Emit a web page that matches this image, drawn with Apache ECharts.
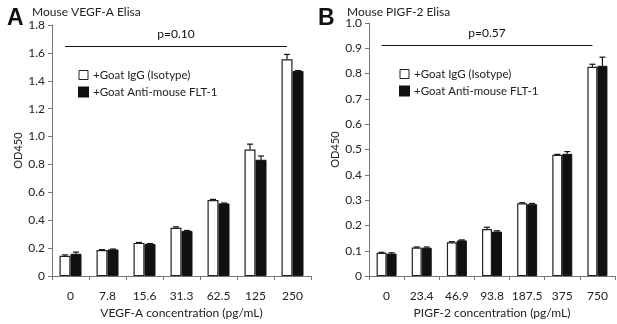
<!DOCTYPE html>
<html>
<head>
<meta charset="utf-8">
<script src="https://cdn.jsdelivr.net/npm/echarts@6/dist/echarts.min.js"></script>
<style>
  html, body { margin: 0; padding: 0; background: #fff; }
  #chart { width: 617px; height: 324px; }
</style>
</head>
<body>
<div id="chart"></div>
<script>
// panel A - VEGF-A
var vegfCats = ["0", "7.8", "15.6", "31.3", "62.5", "125", "250"];
var vegfIgG = [0.146, 0.187, 0.238, 0.346, 0.546, 0.908, 1.555];
var vegfIgGErr = [0.006, 0.003, 0.003, 0.007, 0.004, 0.038, 0.034];
var vegfFlt = [0.160, 0.191, 0.231, 0.324, 0.521, 0.834, 1.471];
var vegfFltErr = [0.012, 0.003, 0.002, 0.003, 0.003, 0.027, 0.002];
var vegfP = 1.65;

// panel B - PlGF-2
var pigfCats = ["0", "23.4", "46.9", "93.8", "187.5", "375", "750"];
var pigfIgG = [0.092, 0.113, 0.134, 0.186, 0.288, 0.479, 0.827];
var pigfIgGErr = [0.002, 0.002, 0.002, 0.007, 0.002, 0.002, 0.010];
var pigfFlt = [0.089, 0.112, 0.141, 0.176, 0.284, 0.483, 0.831];
var pigfFltErr = [0.003, 0.003, 0.002, 0.003, 0.003, 0.009, 0.034];
var pigfP = 0.913;

var nameIgG = "+Goat IgG (Isotype)";
var nameFlt = "+Goat Anti-mouse FLT-1";
var font = "Lato";

var chart = echarts.init(document.getElementById("chart"));

// error bar (upper whisker only) drawn at the bar's offset
function errSeries(name, axisIdx, vals, errs, offset) {
  var data = [];
  for (var i = 0; i < vals.length; i++) {
    data.push([i, vals[i], errs[i]]);
  }
  return {
    type: "custom",
    name: name + "err",
    xAxisIndex: axisIdx,
    yAxisIndex: axisIdx,
    z: 5,
    silent: true,
    encode: { x: 0, y: 1 },
    data: data,
    renderItem: function(params, api) {
      var base = api.coord([api.value(0), api.value(1)]);
      var top = api.coord([api.value(0), api.value(1) + api.value(2)]);
      var x = base[0] + offset;
      var style = { stroke: "#111", lineWidth: 1.2 };
      return {
        type: "group",
        children: [
          { type: "line", shape: { x1: x, y1: base[1], x2: x, y2: top[1] }, style: style },
          { type: "line", shape: { x1: x - 3, y1: top[1], x2: x + 3, y2: top[1] }, style: style }
        ]
      };
    }
  };
}

function barSeries(name, axisIdx, vals, white, bw, pLine) {
  var s = {
    type: "bar",
    name: name,
    xAxisIndex: axisIdx,
    yAxisIndex: axisIdx,
    barWidth: bw,
    barGap: "0%",
    data: vals,
    itemStyle: white
      ? { color: "#fff", borderColor: "#222", borderWidth: 1.2 }
      : { color: "#111", borderColor: "#111", borderWidth: 1 }
  };
  if (pLine) {
    s.markLine = {
      silent: true,
      symbol: "none",
      lineStyle: { color: "#111", width: 1.2, type: "solid" },
      label: {
        show: true,
        position: "middle",
        formatter: pLine.text,
        color: "#111",
        fontFamily: font,
        fontSize: 12,
        distance: 6
      },
      data: [[{ coord: [0, pLine.y] }, { coord: [vals.length - 1, pLine.y] }]]
    };
  }
  return s;
}

function yAxisCfg(gridIdx, max, interval) {
  return {
    type: "value",
    gridIndex: gridIdx,
    min: 0,
    max: max,
    interval: interval,
    name: "OD450",
    nameLocation: "middle",
    nameGap: 25,
    nameTextStyle: { fontFamily: font, fontSize: 11, color: "#222" },
    axisLine: { show: true, lineStyle: { color: "#777", width: 1 } },
    axisTick: { show: true, length: 4, lineStyle: { color: "#777" } },
    splitLine: { show: false },
    axisLabel: {
      fontFamily: font,
      fontSize: 12,
      color: "#222",
      margin: 7,
      formatter: function(v) { return v === 0 ? "0" : v.toFixed(1); }
    }
  };
}

function xAxisCfg(gridIdx, cats, name) {
  return {
    type: "category",
    gridIndex: gridIdx,
    data: cats,
    name: name,
    nameLocation: "middle",
    nameGap: 30,
    nameTextStyle: { fontFamily: font, fontSize: 12, color: "#222" },
    axisLine: { lineStyle: { color: "#777", width: 1 } },
    axisTick: { show: true, length: 4, interval: 0, alignWithLabel: false, lineStyle: { color: "#777" } },
    axisLabel: { interval: 0, fontFamily: font, fontSize: 12, color: "#222", margin: 14 }
  };
}

var legendCommon = {
  orient: "vertical",
  itemWidth: 9,
  itemHeight: 9,
  itemGap: 5,
  selectedMode: false,
  textStyle: { fontFamily: font, fontSize: 11.5, color: "#222" },
  data: [
    { name: nameIgG, icon: "rect", itemStyle: { color: "#fff", borderColor: "#222", borderWidth: 1 } },
    { name: nameFlt, icon: "rect" }
  ]
};

var option = {
  backgroundColor: "#fff",
  animation: false,
  title: [
    { text: "A", left: 2, top: 2, textStyle: { fontFamily: "Liberation Sans", fontWeight: "bold", fontSize: 23, color: "#111" } },
    { text: "Mouse VEGF-A Elisa", left: 27, top: 1, textStyle: { fontFamily: font, fontWeight: "normal", fontSize: 12, color: "#222" } },
    { text: "B", left: 313, top: 2, textStyle: { fontFamily: "Liberation Sans", fontWeight: "bold", fontSize: 23, color: "#111" } },
    { text: "Mouse PIGF-2 Elisa", left: 342, top: 1, textStyle: { fontFamily: font, fontWeight: "normal", fontSize: 12, color: "#222" } }
  ],
  legend: [
    Object.assign({}, legendCommon, { left: 73, top: 64 }),
    Object.assign({}, legendCommon, { left: 394, top: 63 })
  ],
  grid: [
    { left: 52, top: 25, right: 306, bottom: 34 },
    { left: 369, top: 23, right: 2, bottom: 35 }
  ],
  xAxis: [
    xAxisCfg(0, vegfCats, "VEGF-A concentration (pg/mL)"),
    xAxisCfg(1, pigfCats, "PIGF-2 concentration (pg/mL)")
  ],
  yAxis: [yAxisCfg(0, 1.8, 0.2), yAxisCfg(1, 1.0, 0.1)],
  series: [
    barSeries(nameIgG, 0, vegfIgG, true, 11, { y: vegfP, text: "p=0.10" }),
    barSeries(nameFlt, 0, vegfFlt, false, 11),
    barSeries(nameIgG, 1, pigfIgG, true, 10, { y: pigfP, text: "p=0.57" }),
    barSeries(nameFlt, 1, pigfFlt, false, 10),
    errSeries(nameIgG, 0, vegfIgG, vegfIgGErr, -5.5),
    errSeries(nameFlt, 0, vegfFlt, vegfFltErr, 5.5),
    errSeries(nameIgG, 1, pigfIgG, pigfIgGErr, -5),
    errSeries(nameFlt, 1, pigfFlt, pigfFltErr, 5)
  ]
};

chart.setOption(option);
window.addEventListener("resize", function() {
  chart.resize();
});
</script>
</body>
</html>
